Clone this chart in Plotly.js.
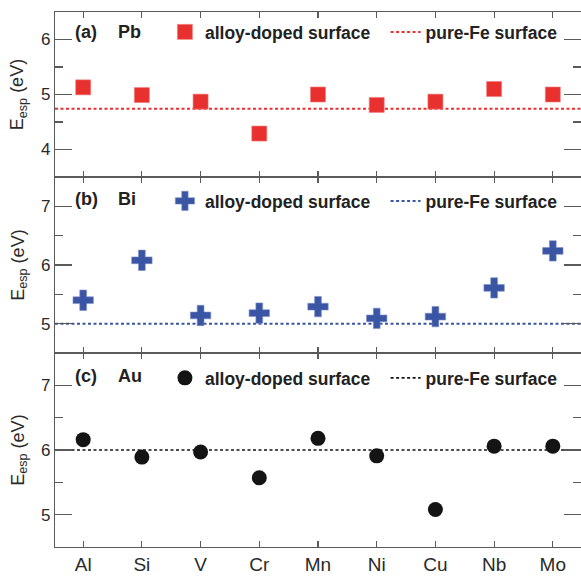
<!DOCTYPE html>
<html>
<head>
<meta charset="utf-8">
<script src="https://cdn.plot.ly/plotly-3.0.1.min.js"></script>
<style>html,body{margin:0;padding:0;background:#fff;}#chart{width:581px;height:577px;}</style>
</head>
<body>
<div id="chart"></div>
<script>
// ---- data ----
const categories = ['Al', 'Si', 'V', 'Cr', 'Mn', 'Ni', 'Cu', 'Nb', 'Mo'];
const pbValues = [5.13, 4.99, 4.87, 4.29, 5.00, 4.81, 4.87, 5.10, 5.00];
const biValues = [5.40, 6.08, 5.14, 5.18, 5.29, 5.09, 5.12, 5.61, 6.24];
const auValues = [6.16, 5.89, 5.97, 5.57, 6.18, 5.91, 5.08, 6.06, 6.06];
const pbFe = 4.74;
const biFe = 5.00;
const auFe = 6.00;
const panelLabels = ['(a)', '(b)', '(c)'];
const adsorbates = ['Pb', 'Bi', 'Au'];
const seriesName = 'alloy-doped surface';
const refName = 'pure-Fe surface';
const yTitle = 'E<sub>esp</sub> (eV)';

// ---- style ----
const FONT = 'Liberation Sans, Arial, sans-serif';
const RED = '#e8312f', BLUE = '#3b55a5', BLACK = '#141414';
const AXC = '#5a5a5a';
const DASH = '3px,2.5px';
const domains = [[0.6916, 1], [0.3626, 0.6916], [0, 0.3626]];

const traces = [
  {x: categories, y: pbValues, type: 'scatter', mode: 'markers', name: seriesName,
   marker: {symbol: 'square', size: 15, color: RED, line: {width: 0.6, color: '#f07a78'}},
   xaxis: 'x', yaxis: 'y', legend: 'legend'},
  {x: [null], y: [null], type: 'scatter', mode: 'lines', name: refName,
   line: {color: RED, width: 2, dash: DASH}, xaxis: 'x', yaxis: 'y', legend: 'legend2'},
  {x: categories, y: biValues, type: 'scatter', mode: 'markers', name: seriesName,
   marker: {symbol: 'cross', size: 17, color: BLUE, line: {width: 0.6, color: '#7d8fc8'}},
   xaxis: 'x2', yaxis: 'y2', legend: 'legend3'},
  {x: [null], y: [null], type: 'scatter', mode: 'lines', name: refName,
   line: {color: BLUE, width: 2, dash: DASH}, xaxis: 'x2', yaxis: 'y2', legend: 'legend4'},
  {x: categories, y: auValues, type: 'scatter', mode: 'markers', name: seriesName,
   marker: {symbol: 'circle', size: 15, color: BLACK},
   xaxis: 'x3', yaxis: 'y3', legend: 'legend5'},
  {x: [null], y: [null], type: 'scatter', mode: 'lines', name: refName,
   line: {color: BLACK, width: 1.6, dash: DASH}, xaxis: 'x3', yaxis: 'y3', legend: 'legend6'}
];

function xAxis(anchor, showLabels) {
  return {
    type: 'category', categoryorder: 'array', categoryarray: categories,
    range: [-0.48, 8.48], anchor: anchor,
    showline: true, linecolor: AXC, linewidth: 1.2, mirror: 'ticks',
    ticks: 'inside', ticklen: 6, tickwidth: 1.1, tickcolor: AXC,
    showgrid: false, zeroline: false, showticklabels: showLabels,
    tickfont: {family: FONT, size: 19, color: '#2a2a2a'}, automargin: false
  };
}
function yAxis(anchor, dom, range) {
  return {
    domain: dom, anchor: anchor, range: range, dtick: 1, tick0: 0,
    showline: true, linecolor: AXC, linewidth: 1.2, mirror: 'ticks',
    ticks: 'inside', ticklen: 17, tickwidth: 1.1, tickcolor: AXC,
    minor: {dtick: 0.5, ticks: 'inside', ticklen: 8, tickwidth: 1.1, tickcolor: AXC},
    showgrid: false, zeroline: false,
    tickfont: {family: FONT, size: 17, color: '#2a2a2a'}, automargin: false
  };
}
function legendAt(x, anchor, y) {
  return {
    orientation: 'h', x: x, xanchor: anchor, y: y, yanchor: 'middle',
    bgcolor: 'rgba(0,0,0,0)', borderwidth: 0,
    font: {family: FONT, size: 17.5, color: '#222', weight: 'bold'}
  };
}

const refs = [['x', 'y', pbFe, RED, 2], ['x2', 'y2', biFe, BLUE, 2], ['x3', 'y3', auFe, BLACK, 1.6]];
const shapes = refs.map(r => ({
  type: 'line', xref: r[0] + ' domain', x0: 0, x1: 1, yref: r[1], y0: r[2], y1: r[2],
  layer: 'below', line: {color: r[3], width: r[4], dash: DASH}
}));

const yrefs = ['y', 'y2', 'y3'];
const labelY = [0.879, 0.875, 0.881];
const annotations = [];
yrefs.forEach((yr, i) => {
  annotations.push({text: panelLabels[i], xref: 'paper', x: 0.034, xanchor: 'left',
    yref: yr + ' domain', y: labelY[i], yanchor: 'middle', showarrow: false,
    font: {family: FONT, size: 18, color: '#222', weight: 'bold'}});
  annotations.push({text: adsorbates[i], xref: 'paper', x: 0.116, xanchor: 'left',
    yref: yr + ' domain', y: labelY[i], yanchor: 'middle', showarrow: false,
    font: {family: FONT, size: 18, color: '#222', weight: 'bold'}});
  annotations.push({text: yTitle, xref: 'paper', x: -0.069, xanchor: 'center',
    yref: yr + ' domain', y: 0.5, yanchor: 'middle', textangle: -90, showarrow: false,
    font: {family: FONT, size: 18, color: '#2a2a2a'}});
});

const legY = [0.9626, 0.6467, 0.3159];
const layout = {
  width: 581, height: 577,
  margin: {l: 55, r: 0, t: 12, b: 30},
  paper_bgcolor: '#fff', plot_bgcolor: '#fff',
  showlegend: true,
  xaxis: xAxis('y', false),
  xaxis2: Object.assign(xAxis('y2', false), {matches: 'x'}),
  xaxis3: Object.assign(xAxis('y3', true), {matches: 'x'}),
  yaxis: yAxis('x', domains[0], [3.5, 6.5]),
  yaxis2: yAxis('x2', domains[1], [4.5, 7.5]),
  yaxis3: yAxis('x3', domains[2], [4.5, 7.5]),
  legend: legendAt(0.209, 'left', legY[0]),
  legend2: legendAt(0.965, 'right', legY[0]),
  legend3: legendAt(0.209, 'left', legY[1]),
  legend4: legendAt(0.965, 'right', legY[1]),
  legend5: legendAt(0.209, 'left', legY[2]),
  legend6: legendAt(0.965, 'right', legY[2]),
  shapes: shapes,
  annotations: annotations
};

Plotly.newPlot('chart', traces, layout, {displayModeBar: false, staticPlot: true});
</script>
</body>
</html>
